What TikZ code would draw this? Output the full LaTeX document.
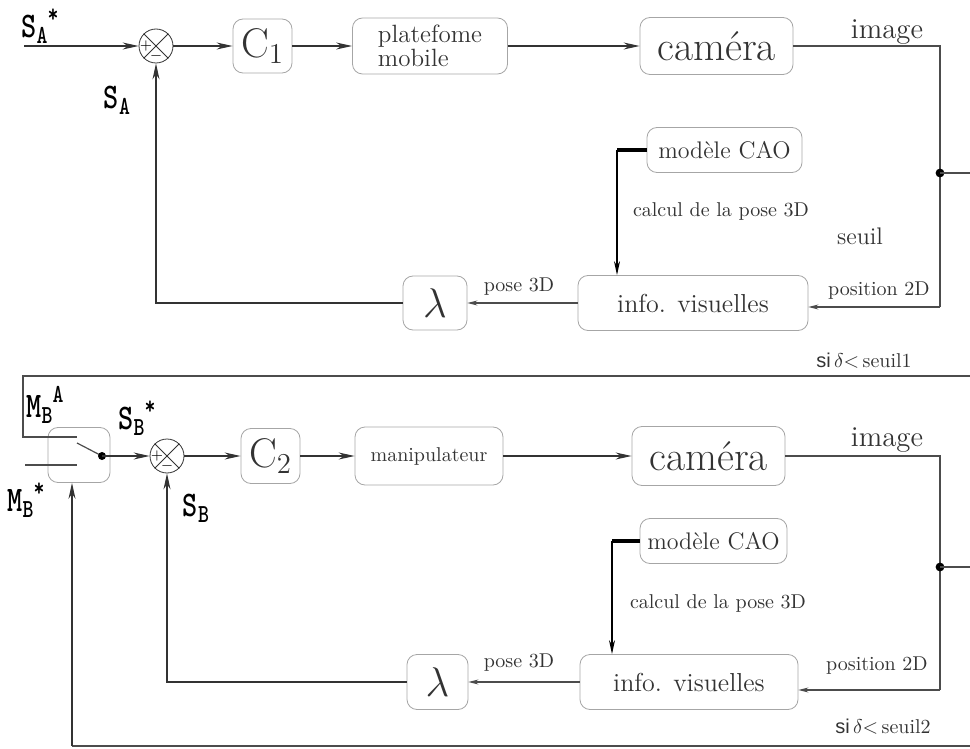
\documentclass[tikz,border=0pt]{standalone}
\usepackage{fontspec}
\setsansfont{Liberation Sans}
\usepackage{graphicx}
\usetikzlibrary{arrows.meta}

% signal names: S_A^*, M_B^A ...
\newcommand{\sigsym}[3]{\scalebox{0.8}[1]{\ttfamily\bfseries\fontsize{18}{18}\selectfont #1\raisebox{-0.4ex}{\fontsize{13}{13}\selectfont #2}\raisebox{0.95ex}{\fontsize{13}{13}\selectfont #3}}}

\tikzset{
  blk/.style={draw=black!35, rounded corners=5pt, text=black!80, inner sep=2pt, align=center},
  sumnode/.style={draw=black!80, circle, minimum size=17pt, inner sep=0pt},
  sig/.style={line width=0.6pt, draw=black!80, -{Stealth[length=8pt,width=3.5pt]}},
  fb/.style={line width=0.6pt, draw=black!70, -{Stealth[length=5pt,width=2.5pt]}},
  wire/.style={line width=0.6pt, draw=black!70},
  txt/.style={text=black!80, inner sep=0pt},
}

\begin{document}
\begin{tikzpicture}[x=0.5pt, y=-0.5pt]
  \useasboundingbox (0,0) rectangle (970,749);
  % --- loop A (plateforme) ---
  \node[sumnode] (sumA) at (156,46) {};
  \draw[black!80] (sumA.45) -- (sumA.225) (sumA.135) -- (sumA.315);
  \node[font=\scriptsize, inner sep=0pt] (sumAp) at ([xshift=-5pt]sumA.center) {+};
  \node[font=\scriptsize, inner sep=0pt] (sumAm) at ([yshift=-5pt]sumA.center) {$-$};
  \node (sAref) at (40,26) {\sigsym{S}{A}{*}};
  \node (sA) at (117,100) {\sigsym{S}{A}{}};
  \coordinate (inA) at (24,46);
  \node[blk, minimum width=29.5pt, minimum height=27pt, font=\huge] (cA) at (262.5,46) {$\mathrm{C}_1$};
  \node[blk, minimum width=77.5pt, minimum height=28pt, font=\fontsize{12.5}{11}\selectfont, align=left] (platA) at (430,46) {platefome\\mobile};
  \node[blk, minimum width=76.5pt, minimum height=28.5pt, font=\huge] (camA) at (716.5,46) {caméra};
  \node[blk, minimum width=77.5pt, minimum height=22.5pt, font=\large] (caoA) at (724.5,150) {modèle CAO};
  \node[blk, minimum width=115pt, minimum height=27.5pt, font=\fontsize{13}{15}\selectfont] (infoA) at (693,303) {info. visuelles};
  \node[blk, minimum width=32pt, minimum height=27pt, font=\huge] (lamA) at (435,303) {$\lambda$};
  \node[txt, font=\Large] (imgAl) at (887,32) {image};
  \node[txt] (calcA) at (721,211) {calcul de la pose 3D};
  \node[txt, font=\large] (seuilA) at (860,236) {seuil};
  \node[txt] (posAl) at (879,291) {position 2D};
  \node[txt] (poseAl) at (519,287) {pose 3D};
  \coordinate (imgA) at (940,46);
  \coordinate (dotA) at (940,173);
  \coordinate (outA) at (970,173);
  \coordinate (posA) at (940,307);
  \coordinate (fbA) at (156,303);
  \coordinate (caoAl) at (617,150);
  \draw[sig] (inA) -- (sumA);
  \draw[sig] (sumA) -- (cA);
  \draw[sig] (cA) -- (platA);
  \draw[sig] (platA) -- (camA);
  \draw[wire] (camA) -- (imgA) -- (posA);
  \fill[black] (dotA) circle (2.2pt);
  \draw[wire] (dotA) -- (outA);
  \draw[fb] (posA) -- (posA -| infoA.east);
  \draw[fb] (infoA) -- (lamA);
  \draw[sig] (lamA) -- (fbA) -- (sumA);
  \draw[line width=1.6pt] (caoA.west) -- (caoAl);
  \draw[line width=0.6pt, -{Stealth[length=7pt,width=3pt]}] (caoAl) -- (caoAl |- infoA.north);
  % --- loop B (manipulateur) ---
  \coordinate (thA) at (970,376);
  \coordinate (thB) at (23,376);
  \coordinate (upC) at (23,437);
  \coordinate (upCe) at (77,437);
  \coordinate (loC) at (25,465);
  \coordinate (loCe) at (77,465);
  \coordinate (blade) at (77,443);
  \coordinate (pivB) at (102,456);
  \node[txt] (thAl) at (864,361) {\textsf{si}\,$\delta{<}$\,seuil1};
  \node[blk, minimum width=31pt, minimum height=27.5pt] (swB) at (79,455) {};
  \draw[wire] (thA) -- (thB) -- (upC) -- (upCe);
  \draw[wire] (loC) -- (loCe);
  \draw[wire] (blade) -- (pivB);
  \fill[black] (pivB) circle (2pt);
  \node[sumnode] (sumB) at (167,456) {};
  \draw[black!80] (sumB.45) -- (sumB.225) (sumB.135) -- (sumB.315);
  \node[font=\scriptsize, inner sep=0pt] (sumBp) at ([xshift=-5pt]sumB.center) {+};
  \node[font=\scriptsize, inner sep=0pt] (sumBm) at ([yshift=-5pt]sumB.center) {$-$};
  \node (mBA) at (45,405) {\sigsym{M}{B}{A}};
  \node (sBref) at (137,418) {\sigsym{S}{B}{*}};
  \node (mBref) at (26,500) {\sigsym{M}{B}{*}};
  \node (sB) at (196,508) {\sigsym{S}{B}{}};
  \node[blk, minimum width=29.5pt, minimum height=27.5pt, font=\huge] (cB) at (270.5,456) {$\mathrm{C}_2$};
  \node[blk, minimum width=74pt, minimum height=29pt] (manB) at (429,456) {manipulateur};
  \node[blk, minimum width=76.5pt, minimum height=29.5pt, font=\huge] (camB) at (708.5,456) {caméra};
  \node[blk, minimum width=73.5pt, minimum height=22.5pt, font=\large] (caoB) at (713.5,541) {modèle CAO};
  \node[blk, minimum width=109pt, minimum height=27.5pt, font=\fontsize{13}{15}\selectfont] (infoB) at (689,682) {info. visuelles};
  \node[blk, minimum width=30.5pt, minimum height=27.5pt, font=\huge] (lamB) at (437.5,682) {$\lambda$};
  \node[txt, font=\Large] (imgBl) at (887,440) {image};
  \node[txt] (calcB) at (718,603) {calcul de la pose 3D};
  \node[txt] (posBl) at (877,666) {position 2D};
  \node[txt] (poseBl) at (519,663) {pose 3D};
  \node[txt] (thBl) at (883,727) {\textsf{si}\,$\delta{<}$\,seuil2};
  \coordinate (imgB) at (940,456);
  \coordinate (dotB) at (940,567);
  \coordinate (outB) at (970,567);
  \coordinate (posB) at (940,690);
  \coordinate (fbB) at (167,682);
  \coordinate (caoBl) at (612,541);
  \coordinate (rB) at (970,746);
  \coordinate (mbIn) at (72,746);
  \draw[sig] (pivB) -- (sumB);
  \draw[sig] (sumB) -- (cB);
  \draw[sig] (cB) -- (manB);
  \draw[sig] (manB) -- (camB);
  \draw[wire] (camB) -- (imgB) -- (posB);
  \fill[black] (dotB) circle (2.2pt);
  \draw[wire] (dotB) -- (outB);
  \draw[fb] (posB) -- (posB -| infoB.east);
  \draw[fb] (infoB) -- (lamB);
  \draw[sig] (lamB) -- (fbB) -- (sumB);
  \draw[line width=1.6pt] (caoB.west) -- (caoBl);
  \draw[line width=0.6pt, -{Stealth[length=7pt,width=3pt]}] (caoBl) -- (caoBl |- infoB.north);
  \draw[wire] (rB) -- (mbIn);
  \draw[sig] (mbIn) -- (mbIn |- swB.south);
\end{tikzpicture}
\end{document}
